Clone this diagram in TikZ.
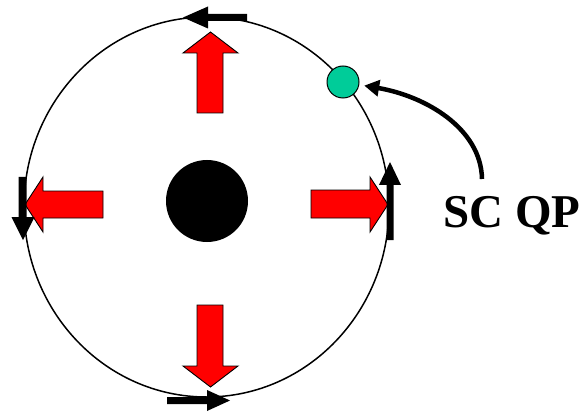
\documentclass[tikz,border=0pt]{standalone}
\usepackage{fontspec}
\setmainfont{Liberation Serif}
\usetikzlibrary{arrows.meta}
\begin{document}
\begin{tikzpicture}[x=1pt,y=-1pt,
  redarrow/.style={fill=red,draw=black,line width=0.9pt,line join=miter},
  blackarrow/.style={fill=black,draw=none},
  ring/.style={draw=black,line width=1.5pt},
  dot/.style={circle,fill=black,inner sep=0pt,minimum size=82pt},
  qpdot/.style={circle,fill={rgb,255:red,0;green,204;blue,153},draw=black,line width=1pt,inner sep=0pt,minimum size=32pt},
  label/.style={font=\fontsize{47}{50}\selectfont\bfseries,inner sep=0pt},
  connector/.style={line width=4.5pt,-{Triangle[length=15pt,width=16pt]},shorten >=5pt}]
\useasboundingbox (0,0) rectangle (583,414);
% main ring
\draw[ring] (206.5,207) ellipse [x radius=182.5, y radius=190];
% central dot
\node[dot] (core) at (207,201) {};
% red arrows
\draw[redarrow] (197,113) -- (197,53) -- (183,53) -- (210.5,32) -- (238,53) -- (223,53) -- (223,113) -- cycle;
\draw[redarrow] (197,305) -- (197,366) -- (183,366) -- (210.5,387) -- (238,366) -- (223,366) -- (223,305) -- cycle;
\draw[redarrow] (103,191) -- (43,191) -- (43,177) -- (25,204.5) -- (43,232) -- (43,218) -- (103,218) -- cycle;
\draw[redarrow] (311,190) -- (370,190) -- (370,177) -- (388,204.5) -- (370,232) -- (370,218) -- (311,218) -- cycle;
% black tangent arrows
\fill[blackarrow] (247,14) -- (208,14) -- (208,6.5) -- (183,17.5) -- (208,28.5) -- (208,21) -- (247,21) -- cycle;
\fill[blackarrow] (167,397) -- (207,397) -- (207,390) -- (230,400.5) -- (207,411) -- (207,404) -- (167,404) -- cycle;
\fill[blackarrow] (18.5,177) -- (18.5,217) -- (11.5,217) -- (23,240) -- (34.5,217) -- (26.5,217) -- (26.5,177) -- cycle;
\fill[blackarrow] (386.5,240) -- (386.5,185) -- (379,185) -- (390,162) -- (401,185) -- (393.5,185) -- (393.5,240) -- cycle;
% quasiparticle
\node[qpdot] (qp) at (343,82) {};
\node[label] (sc) at (512,216) {SC QP};
\coordinate (start) at (482,179);
\draw[connector] (start) .. controls (481,128) and (425,96) .. (qp);
\end{tikzpicture}
\end{document}
